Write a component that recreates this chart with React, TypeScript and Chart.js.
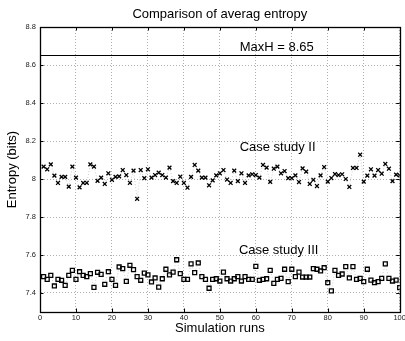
import React, { useEffect, useRef } from 'react';
import { Chart, registerables } from 'chart.js';

Chart.register(...registerables);

const RUNS = [
  1, 2, 3, 4, 5, 6, 7, 8, 9, 10, 11, 12, 13, 14, 15, 16, 17, 18, 19, 20,
  21, 22, 23, 24, 25, 26, 27, 28, 29, 30, 31, 32, 33, 34, 35, 36, 37, 38, 39, 40,
  41, 42, 43, 44, 45, 46, 47, 48, 49, 50, 51, 52, 53, 54, 55, 56, 57, 58, 59, 60,
  61, 62, 63, 64, 65, 66, 67, 68, 69, 70, 71, 72, 73, 74, 75, 76, 77, 78, 79, 80,
  81, 82, 83, 84, 85, 86, 87, 88, 89, 90, 91, 92, 93, 94, 95, 96, 97, 98, 99, 100,
];

const CASE_II = [
  8.065, 8.051, 8.077, 8.018, 7.979, 8.011, 8.011, 7.960, 8.065, 8.007,
  7.956, 7.979, 7.980, 8.077, 8.065, 7.990, 8.007, 7.974, 8.030, 7.996,
  8.011, 8.014, 8.047, 8.021, 7.980, 8.044, 7.896, 8.047, 8.004, 8.051,
  8.007, 8.021, 8.033, 8.021, 8.007, 8.060, 7.989, 7.979, 8.012, 7.979,
  7.954, 8.011, 8.074, 8.044, 8.007, 8.007, 7.967, 7.993, 8.019, 8.030,
  8.047, 7.997, 7.979, 8.044, 7.989, 8.030, 7.979, 8.019, 8.025, 8.021,
  8.007, 8.074, 8.060, 7.985, 8.054, 8.065, 8.030, 8.042, 8.004, 8.004,
  8.019, 7.984, 8.056, 8.039, 7.974, 7.996, 7.963, 8.019, 8.063, 7.986,
  8.005, 8.026, 8.021, 8.025, 8.000, 7.958, 8.058, 8.058, 8.128, 7.986,
  8.018, 8.051, 8.018, 8.047, 8.028, 8.079, 8.054, 7.989, 8.023, 8.019,
];

const CASE_III = [
  7.486, 7.472, 7.493, 7.437, 7.472, 7.467, 7.440, 7.493, 7.519, 7.472,
  7.512, 7.493, 7.486, 7.502, 7.430, 7.509, 7.498, 7.446, 7.512, 7.472,
  7.440, 7.537, 7.528, 7.461, 7.546, 7.523, 7.486, 7.467, 7.505, 7.495,
  7.458, 7.479, 7.431, 7.475, 7.525, 7.495, 7.510, 7.575, 7.502, 7.472,
  7.472, 7.553, 7.507, 7.558, 7.486, 7.472, 7.425, 7.472, 7.475, 7.463,
  7.510, 7.475, 7.463, 7.475, 7.486, 7.463, 7.486, 7.472, 7.472, 7.540,
  7.467, 7.472, 7.475, 7.519, 7.451, 7.472, 7.477, 7.525, 7.460, 7.525,
  7.486, 7.510, 7.484, 7.484, 7.484, 7.528, 7.525, 7.516, 7.533, 7.454,
  7.411, 7.519, 7.493, 7.500, 7.539, 7.479, 7.539, 7.472, 7.477, 7.460,
  7.525, 7.468, 7.454, 7.460, 7.477, 7.553, 7.477, 7.463, 7.468, 7.428,
];

const MAX_H = 8.65;
const X_TICKS = [0, 10, 20, 30, 40, 50, 60, 70, 80, 90, 100];
const Y_TICKS = [7.4, 7.6, 7.8, 8, 8.2, 8.4, 8.6, 8.8];
const X_MIN = 0;
const X_MAX = 100;
const Y_MIN = 7.3;
const Y_MAX = 8.8;

const TITLE = 'Comparison of averag entropy';
const X_TITLE = 'Simulation runs';
const Y_TITLE = 'Entropy (bits)';
const LABEL_II = 'Case study II';
const LABEL_III = 'Case study III';

const FONT = "'Liberation Sans', Arial, Helvetica, sans-serif";

export default function App() {
  const ref = useRef<HTMLCanvasElement | null>(null);

  useEffect(() => {
    if (!ref.current) return;

    const framePlugin = {
      id: 'framePlugin',
      afterDraw(chart: any) {
        const { ctx, chartArea } = chart;
        const xs = chart.scales.x;
        const ys = chart.scales.y;
        const { left, right, top, bottom } = chartArea;
        ctx.save();
        // inward ticks
        ctx.strokeStyle = '#000';
        ctx.lineWidth = 1;
        ctx.beginPath();
        X_TICKS.forEach((v) => {
          const px = Math.round(xs.getPixelForValue(v)) + 0.5;
          ctx.moveTo(px, bottom);
          ctx.lineTo(px, bottom - 3.5);
          ctx.moveTo(px, top);
          ctx.lineTo(px, top + 3.5);
        });
        Y_TICKS.forEach((v) => {
          const py = Math.round(ys.getPixelForValue(v)) + 0.5;
          ctx.moveTo(left, py);
          ctx.lineTo(left + 3.5, py);
          ctx.moveTo(right, py);
          ctx.lineTo(right - 3.5, py);
        });
        ctx.stroke();
        // frame
        ctx.lineWidth = 1.3;
        ctx.strokeRect(Math.round(left) + 0.5, Math.round(top) + 0.5, Math.round(right) - Math.round(left), Math.round(bottom) - Math.round(top));
        // annotations
        ctx.fillStyle = '#000';
        ctx.font = `13px ${FONT}`;
        ctx.textAlign = 'left';
        ctx.textBaseline = 'alphabetic';
        const labels = [
          { text: `MaxH = ${MAX_H}`, x: 55.5, y: 8.676 },
          { text: LABEL_II, x: 55.5, y: 8.149 },
          { text: LABEL_III, x: 55.3, y: 7.605 },
        ];
        labels.forEach((l) => {
          ctx.fillText(l.text, xs.getPixelForValue(l.x), ys.getPixelForValue(l.y));
        });
        ctx.restore();
      },
    };

    const chart = new Chart(ref.current, {
      type: 'scatter',
      data: {
        datasets: [
          {
            label: 'MaxH',
            data: [
              { x: X_MIN, y: MAX_H },
              { x: X_MAX, y: MAX_H },
            ],
            showLine: true,
            borderColor: '#000',
            borderWidth: 1.1,
            pointRadius: 0,
          },
          {
            label: LABEL_II,
            data: RUNS.map((r, i) => ({ x: r, y: CASE_II[i] })),
            showLine: true,
            borderColor: '#bdbdbd',
            borderWidth: 0.8,
            borderDash: [1, 2],
            pointStyle: 'crossRot',
            pointRadius: 2.7,
            pointBorderColor: '#000',
            pointBorderWidth: 1.3,
            pointBackgroundColor: 'rgba(0,0,0,0)',
          },
          {
            label: LABEL_III,
            data: RUNS.map((r, i) => ({ x: r, y: CASE_III[i] })),
            showLine: true,
            borderColor: '#bdbdbd',
            borderWidth: 0.8,
            borderDash: [1, 2],
            pointStyle: 'rect',
            pointRadius: 2.8,
            pointBorderColor: '#000',
            pointBorderWidth: 1.3,
            pointBackgroundColor: 'rgba(0,0,0,0)',
          },
        ],
      } as any,
      options: {
        responsive: false,
        animation: false,
        events: [],
        layout: { padding: { left: 0, right: 5, top: 0, bottom: 0 } },
        plugins: {
          legend: { display: false },
          tooltip: { enabled: false },
          title: {
            display: true,
            text: TITLE,
            fullSize: false,
            color: '#000',
            font: { family: FONT, size: 13, weight: 'normal' },
            padding: { top: 6.2, bottom: 5.2 },
          },
        },
        scales: {
          x: {
            type: 'linear',
            min: X_MIN,
            max: X_MAX,
            afterBuildTicks: (s: any) => {
              s.ticks = X_TICKS.map((v) => ({ value: v }));
            },
            afterFit: (s: any) => {
              s.height = 29;
              s.paddingLeft = 0;
              s.paddingRight = 0;
            },
            ticks: {
              autoSkip: false,
              maxRotation: 0,
              padding: 1,
              color: '#222',
              font: { family: FONT, size: 7.5 },
              callback: (v: any) => String(v),
            },
            grid: { color: '#9a9a9a', lineWidth: 0.8, drawTicks: false },
            border: { display: true, color: '#000', width: 1, dash: [1, 2] },
            title: {
              display: true,
              text: X_TITLE,
              color: '#000',
              font: { family: FONT, size: 13 },
              padding: { top: 0, bottom: 4.4 },
            },
          },
          y: {
            type: 'linear',
            min: Y_MIN,
            max: Y_MAX,
            afterBuildTicks: (s: any) => {
              s.ticks = Y_TICKS.map((v) => ({ value: v }));
            },
            afterFit: (s: any) => {
              s.width = 40;
              s.paddingTop = 0;
              s.paddingBottom = 0;
            },
            ticks: {
              autoSkip: false,
              padding: 4,
              color: '#222',
              font: { family: FONT, size: 7.5 },
              callback: (v: any) => String(Math.round(Number(v) * 10) / 10),
            },
            grid: { color: '#9a9a9a', lineWidth: 0.8, drawTicks: false },
            border: { display: true, color: '#000', width: 1, dash: [1, 2] },
            title: {
              display: true,
              text: Y_TITLE,
              color: '#000',
              font: { family: FONT, size: 13 },
              padding: { top: 5, bottom: 0 },
            },
          },
        },
      } as any,
      plugins: [framePlugin],
    });

    return () => {
      chart.destroy();
    };
  }, []);

  return (
    <div style={{ position: 'fixed', left: 0, top: 0, width: 405, height: 341, background: '#fff' }}>
      <canvas ref={ref} width={405} height={341} style={{ display: 'block' }} />
    </div>
  );
}
